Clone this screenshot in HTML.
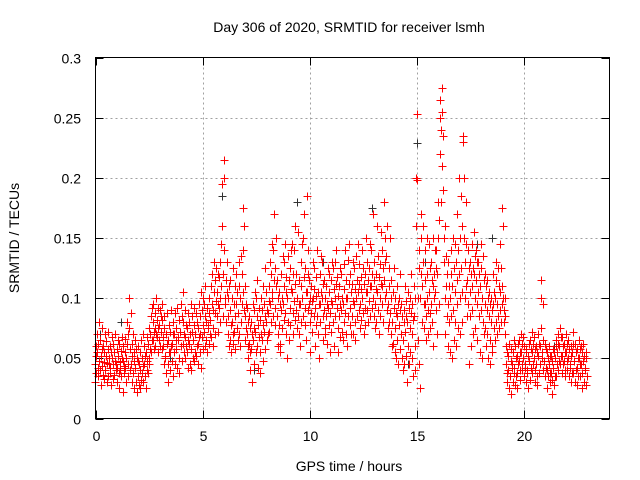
<!DOCTYPE html>
<html><head><meta charset="utf-8">
<style>
body{margin:0;background:#fff;}
svg{display:block;font-family:"Liberation Sans",sans-serif;}
</style></head>
<body>
<svg id="chart" width="640" height="480" viewBox="0 0 640 480" xmlns="http://www.w3.org/2000/svg">
<rect width="640" height="480" fill="#fff"/>
<text x="349" y="32" font-size="14" text-anchor="middle" fill="#000">Day 306 of 2020, SRMTID for receiver lsmh</text>
<text transform="translate(19,238) rotate(-90)" font-size="14" text-anchor="middle" fill="#000">SRMTID / TECUs</text>
<text x="349" y="471" font-size="14" text-anchor="middle" fill="#000">GPS time / hours</text>
<g id="grid"></g>
<g id="axes"></g>
<g id="grey"></g>
<g id="red"></g>
<rect x="95.5" y="57.5" width="514" height="361" fill="none" stroke="#000" stroke-width="1"/>
</svg>
<script>
const xTicks=[0,5,10,15,20];
const yTicks=[0,0.05,0.1,0.15,0.2,0.25,0.3];
const yTickLabels=["0","0.05","0.1","0.15","0.2","0.25","0.3"];
// rows: [time(h), values in milli-TECU...]
const redRows=[
[0.0,30,45,60,52,38],[0.1,55,70,42,35,62],[0.2,48,80,65,40,28],[0.3,52,44,75,58,36],[0.4,60,47,33,55,70],
[0.5,40,52,64,30,46],[0.6,58,35,72,45,50],[0.7,42,60,38,28,55],[0.8,50,68,45,33,62],[0.9,36,55,48,70,40],
[1.0,45,30,58,42,65],[1.1,52,38,62,25,47],[1.2,40,56,35,68,50],[1.3,48,22,60,44,38],[1.4,55,42,66,30,50],
[1.5,62,80,45,35,70],[1.6,75,100,58,40,88],[1.7,45,62,30,52,70],[1.8,38,55,25,48,65],[1.9,42,30,58,22,50],
[2.0,35,48,60,28,45],[2.1,40,55,25,65,32],[2.2,50,38,70,44,30],[2.3,45,60,35,52,25],[2.4,55,40,68,48,38],
[2.5,62,50,75,45,58],[2.6,70,85,55,65,92],[2.7,80,65,95,72,58],[2.8,75,60,88,70,100],[2.9,68,82,55,92,75],
[3.0,65,78,90,60,85],[3.1,72,58,82,95,68],[3.2,60,45,75,85,52],[3.3,50,70,38,62,88],[3.4,45,65,30,55,78],
[3.5,55,72,40,90,60],[3.6,62,48,80,35,70],[3.7,70,55,88,45,65],[3.8,58,75,42,92,68],[3.9,65,50,82,38,72],
[4.0,72,60,95,48,85],[4.1,80,62,105,55,70],[4.2,68,90,50,78,60],[4.3,55,75,42,88,65],[4.4,62,80,45,70,95],
[4.5,58,40,72,85,50],[4.6,65,48,78,92,55],[4.7,70,52,88,60,80],[4.8,62,75,45,95,68],[4.9,55,70,85,42,105],
[5.0,68,90,58,78,100],[5.1,72,95,60,85,110],[5.2,65,80,55,92,75],[5.3,78,100,62,88,70],[5.4,82,110,68,95,120],
[5.5,75,90,60,105,130],[5.6,88,115,70,98,125],[5.7,85,105,72,120,95],[5.8,92,118,80,130,100],[5.9,110,145,195,160,85],
[6.0,120,200,215,140,100],[6.1,95,115,80,130,105],[6.2,85,70,100,60,110],[6.3,90,65,115,78,55],[6.4,80,100,62,125,70],
[6.5,72,95,58,85,110],[6.6,95,120,75,105,65],[6.7,88,130,70,110,60],[6.8,100,135,80,120,95],[6.9,105,175,140,90,160],
[7.0,85,110,65,95,75],[7.1,70,92,50,80,60],[7.2,62,85,40,75,55],[7.3,58,80,30,70,95],[7.4,65,90,45,75,105],
[7.5,72,100,55,85,115],[7.6,60,78,42,92,68],[7.7,55,82,38,70,100],[7.8,65,90,48,78,110],[7.9,72,95,58,85,125],
[8.0,80,105,65,90,70],[8.1,88,110,72,98,130],[8.2,95,120,80,105,145],[8.3,100,140,85,170,115],[8.4,92,125,78,110,150],
[8.5,85,115,70,100,60],[8.6,78,105,62,95,55],[8.7,90,120,75,100,135],[8.8,95,130,82,110,145],[8.9,88,118,70,105,50],
[9.0,100,135,80,115,65],[9.1,92,125,78,108,140],[9.2,105,145,88,120,70],[9.3,98,140,82,112,160],[9.4,90,120,75,100,155],
[9.5,85,115,70,95,60],[9.6,95,130,80,110,145],[9.7,100,150,85,118,170],[9.8,92,125,78,105,65],[9.9,105,185,90,120,140],
[10.0,95,115,80,100,55],[10.1,88,110,72,98,130],[10.2,100,125,85,108,60],[10.3,92,118,78,102,140],[10.4,85,105,70,95,50],
[10.5,95,120,80,105,135],[10.6,100,130,85,112,65],[10.7,90,115,75,100,70],[10.8,85,110,62,95,125],[10.9,92,120,78,105,55],
[11.0,88,115,72,98,130],[11.1,95,125,80,108,60],[11.2,100,130,85,112,140],[11.3,92,118,75,102,55],[11.4,85,110,68,95,125],
[11.5,90,120,72,100,65],[11.6,95,128,80,108,140],[11.7,88,115,70,100,60],[11.8,100,132,85,112,145],[11.9,92,120,78,105,70],
[12.0,85,112,70,98,130],[12.1,95,125,80,108,65],[12.2,100,135,85,115,145],[12.3,105,128,90,112,75],[12.4,95,118,82,108,140],
[12.5,100,125,88,112,70],[12.6,92,120,78,105,150],[12.7,105,130,90,115,80],[12.8,98,125,85,110,145],[12.9,110,140,92,120,170],
[13.0,100,130,85,115,75],[13.1,95,120,80,108,160],[13.2,105,135,90,118,70],[13.3,100,128,85,112,155],[13.4,110,140,95,125,80],
[13.5,115,180,100,150,130],[13.6,105,135,90,160,75],[13.7,95,125,80,110,150],[13.8,88,115,70,100,60],[13.9,80,105,62,92,125],
[14.0,75,100,55,88,50],[14.1,85,110,65,95,45],[14.2,78,100,58,90,120],[14.3,70,95,50,85,40],[14.4,65,90,45,80,110],
[14.5,72,98,52,85,30],[14.6,80,105,60,92,45],[14.7,75,100,55,88,120],[14.8,70,95,50,82,35],[14.9,85,110,60,100,40],
[15.0,160,200,198,253,100],[15.1,65,125,45,140,25],[15.2,100,150,120,170,80],[15.3,110,160,130,95,75],[15.4,95,140,115,85,65],
[15.5,100,150,120,90,70],[15.6,105,145,125,88,75],[15.7,95,130,115,80,60],[15.8,110,150,120,100,140],[15.9,105,140,90,125,70],
[16.0,120,150,180,165,95],[16.1,220,250,265,240,180],[16.2,275,255,210,190,235],[16.3,150,130,100,160,70],[16.4,110,135,85,120,60],
[16.5,95,130,80,110,55],[16.6,100,140,85,120,50],[16.7,110,150,90,125,65],[16.8,105,145,80,130,60],[16.9,115,170,95,140,75],
[17.0,120,200,100,150,70],[17.1,125,185,105,160,80],[17.2,235,230,200,150,100],[17.3,130,180,110,145,85],[17.4,115,140,95,125,45],
[17.5,105,130,85,120,60],[17.6,110,145,90,125,70],[17.7,120,155,100,135,75],[17.8,115,140,95,130,65],[17.9,105,130,85,120,55],
[18.0,110,145,90,125,50],[18.1,100,135,80,115,70],[18.2,95,120,75,110,60],[18.3,90,115,70,100,50],[18.4,85,105,65,95,45],
[18.5,80,100,60,90,55],[18.6,95,120,75,105,65],[18.7,100,130,80,115,70],[18.8,95,125,85,110,75],[18.9,105,145,90,125,80],
[19.0,110,175,95,160,100],[19.1,90,80,100,70,85],[19.2,45,60,30,55,38],[19.3,40,52,25,62,35],[19.4,35,48,20,58,42],
[19.5,45,55,30,65,38],[19.6,42,60,28,50,35],[19.7,38,52,25,62,45],[19.8,48,65,32,55,40],[19.9,55,70,40,62,45],
[20.0,50,68,35,60,42],[20.1,45,58,30,55,38],[20.2,40,52,25,62,48],[20.3,48,65,32,58,42],[20.4,55,72,38,62,45],
[20.5,50,68,30,58,40],[20.6,45,60,28,55,35],[20.7,52,70,38,62,45],[20.8,60,100,115,75,50],[20.9,55,95,40,65,48],
[21.0,48,62,35,58,42],[21.1,40,55,25,50,35],[21.2,45,60,30,52,38],[21.3,38,52,20,48,32],[21.4,42,58,28,55,35],
[21.5,50,65,35,60,45],[21.6,55,70,40,62,48],[21.7,60,75,45,68,52],[21.8,52,68,38,60,45],[21.9,48,62,35,55,40],
[22.0,55,70,40,62,48],[22.1,50,65,35,58,42],[22.2,45,60,30,52,38],[22.3,55,72,38,62,48],[22.4,48,62,30,55,40],
[22.5,42,58,28,50,35],[22.6,50,65,35,58,45],[22.7,45,60,25,55,38],[22.8,48,62,30,52,40],[22.9,42,55,28,50,35]
];
const greyTimes=[0.2,1.2,3.5,5.9,7.4,8.8,9.4,10.6,12.9,14.6,15.0,15.4,16.2,17.8,18.5,20.8,21.4];
const greyValues=[0.07,0.08,0.05,0.185,0.04,0.13,0.18,0.13,0.175,0.045,0.229,0.13,0.21,0.145,0.15,0.115,0.06];

const X0=95.5,X1=609.5,Y0=418.5,Y1=57.5,XMAX=24.0,YMAX=0.3;
function xs(t){return X0+(X1-X0)*t/XMAX;}
function ys(v){return Y0-(Y0-Y1)*v/YMAX;}
const NS="http://www.w3.org/2000/svg";
const grid=document.getElementById('grid'),axes=document.getElementById('axes');
function line(g,x1,y1,x2,y2,st,dash){const l=document.createElementNS(NS,'line');l.setAttribute('x1',x1);l.setAttribute('y1',y1);l.setAttribute('x2',x2);l.setAttribute('y2',y2);l.setAttribute('stroke',st);if(dash)l.setAttribute('stroke-dasharray',dash);g.appendChild(l);return l;}
function text(g,x,y,s,anchor){const t=document.createElementNS(NS,'text');t.setAttribute('x',x);t.setAttribute('y',y);t.setAttribute('font-size','14');t.setAttribute('text-anchor',anchor);t.textContent=s;g.appendChild(t);return t;}
xTicks.forEach(t=>{const x=Math.round(xs(t))+0.5;
 if(t>0){const gl=line(grid,x,Y1,x,Y0,'#a0a0a0','2,3');
 
 }
 line(axes,x,Y0,x,Y0-8,'#000');line(axes,x,Y1,x,Y1+8,'#000');
 const lb=text(axes,x,441,String(t),'middle');
 
 
});
yTicks.forEach((v,i)=>{const y=Math.round(ys(v))+0.5;
 if(v>0&&v<YMAX){const gl=line(grid,X0,y,X1,y,'#a0a0a0','2,3');
 
 }
 line(axes,X0,y,X0+8,y,'#000');line(axes,X1,y,X1-8,y,'#000');
 const lb=text(axes,81,y+5,yTickLabels[i],'end');
 
 
});
function plus(x,y){x=Math.round(x)+0.5;y=Math.round(y)+0.5;return `M${x-4},${y}h8M${x},${y-4}v8`;}
let gd='';greyTimes.forEach((t,i)=>{gd+=plus(xs(t),ys(greyValues[i]));});
const gp=document.createElementNS(NS,'path');gp.setAttribute('d',gd);gp.setAttribute('stroke','#333');gp.setAttribute('fill','none');


document.getElementById('grey').appendChild(gp);
let rd='';redRows.forEach(r=>{const t=r[0];for(let k=1;k<r.length;k++){const dt=(k-3)*0.018;rd+=plus(xs(t+dt),ys(r[k]/1000));}});
const rp=document.createElementNS(NS,'path');rp.setAttribute('d',rd);rp.setAttribute('stroke','#ff0000');rp.setAttribute('fill','none');


document.getElementById('red').appendChild(rp);
</script>
</body></html>
